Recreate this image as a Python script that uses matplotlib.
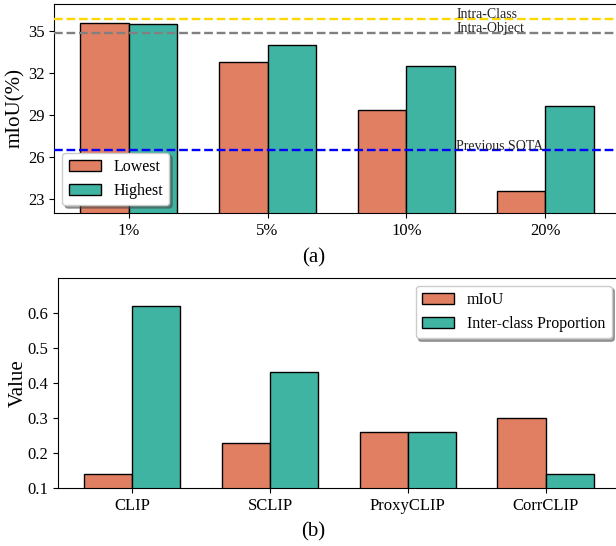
import matplotlib
matplotlib.use("Agg")
import matplotlib.pyplot as plt
import numpy as np

plt.rcParams['font.family'] = ['Liberation Serif', 'DejaVu Serif']

# ---- data (a)
ratios = ['1%', '5%', '10%', '20%']
lowest = [35.6, 32.8, 29.4, 23.6]
highest = [35.5, 34.05, 32.5, 29.7]
ref_names = ['Intra-Class', 'Intra-Object', 'Previous SOTA']
ref_values = [35.9, 34.9, 26.5]
ref_colors = ['#FFD700', 'gray', 'blue']

# ---- data (b)
methods = ['CLIP', 'SCLIP', 'ProxyCLIP', 'CorrCLIP']
miou = [0.14, 0.23, 0.26, 0.30]
inter_prop = [0.62, 0.43, 0.26, 0.14]

c_orange = '#E17F63'
c_teal = '#40B4A3'

W, H = 616, 546
fig = plt.figure(figsize=(W / 100, H / 100), dpi=100)

def fx(px):
    return px / W

def fy(py):
    return 1 - py / H

width = 0.35

# ---------------- (a)
ax1 = fig.add_axes([fx(54.3), fy(213.3), fx(619.6) - fx(54.3), fy(3.5) - fy(213.3)])
x = np.arange(len(ratios))
ax1.bar(x - width / 2, lowest, width, color=c_orange, edgecolor='black', linewidth=1.0, label='Lowest', zorder=2)
ax1.bar(x + width / 2, highest, width, color=c_teal, edgecolor='black', linewidth=1.0, label='Highest', zorder=2)
for name, val, col in zip(ref_names, ref_values, ref_colors):
    ax1.axhline(val, color=col, linestyle='--', linewidth=1.7, zorder=3)
    ax1.text(2.36, val + 0.05, name, fontsize=10, ha='left', va='baseline', color='#222222', zorder=4)
ax1.set_xlim(-0.535, 3.535)
ax1.set_ylim(22, 37)
ax1.set_yticks([23, 26, 29, 32, 35])
ax1.set_xticks(x)
ax1.set_xticklabels(ratios)
ax1.tick_params(labelsize=12)
ax1.set_ylabel('mIoU(%)', fontsize=15)
ax1.yaxis.set_label_coords(-0.052, 0.5)
ax1.legend(loc='lower left', fontsize=11.5, shadow=True)

# ---------------- (b)
ax2 = fig.add_axes([fx(58.3), fy(488.3), fx(619.5) - fx(58.3), fy(277.7) - fy(488.3)])
x2 = np.arange(len(methods))
ax2.bar(x2 - width / 2, miou, width, color=c_orange, edgecolor='black', linewidth=1.0, label='mIoU')
ax2.bar(x2 + width / 2, inter_prop, width, color=c_teal, edgecolor='black', linewidth=1.0, label='Inter-class Proportion')
ax2.set_xlim(-0.535, 3.535)
ax2.set_ylim(0.1, 0.7)
ax2.set_yticks([0.1, 0.2, 0.3, 0.4, 0.5, 0.6])
ax2.set_xticks(x2)
ax2.set_xticklabels(methods)
ax2.tick_params(labelsize=12)
ax2.set_ylabel('Value', fontsize=15)
ax2.yaxis.set_label_coords(-0.054, 0.5)
ax2.legend(loc='upper right', fontsize=11.5, shadow=True)

fig.text(fx(313.5), fy(258), '(a)', fontsize=15, ha='center', va='center')
fig.text(fx(313.5), fy(532), '(b)', fontsize=15, ha='center', va='center')

fig.savefig('out.png', dpi=100)
